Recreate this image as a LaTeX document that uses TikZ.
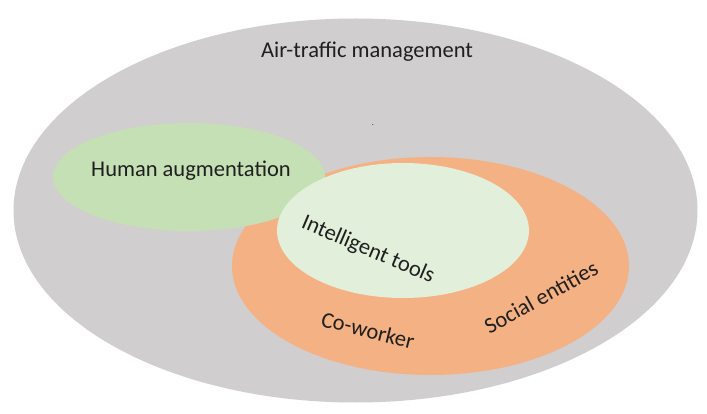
\documentclass[tikz,border=0pt]{standalone}
\usepackage{fontspec}
\setmainfont{Carlito}
\definecolor{atmgray}{HTML}{D0CECE}
\definecolor{augmgreen}{HTML}{C5E0B4}
\definecolor{socorange}{HTML}{F4B183}
\definecolor{toolgreen}{HTML}{E2EFDA}
\tikzstyle{every node}=[text=black!88, inner sep=0pt, font=\fontsize{22.5}{26}\selectfont]

\begin{document}
\begin{tikzpicture}[x=1pt, y=-1pt]
    \useasboundingbox[fill=white] (0,0) rectangle (707,414);
% Areas
    \fill[atmgray] (355.5,210.5) ellipse [x radius=342pt, y radius=192pt];
    \fill[socorange] (430.5,266) ellipse [x radius=198.5pt, y radius=109pt];
    \fill[augmgreen] (189,177) ellipse [x radius=136pt, y radius=54pt];
    \fill[toolgreen] (403,230.5) ellipse [x radius=126pt, y radius=67.5pt];
% Labels
    \node (atm) at (367,52) {Air-traffic management};
    \node (dot) at (373,125) {\fontsize{8}{8}\selectfont .};
    \node (augm) at (191,171) {Human augmentation};
    \node[rotate=-23] (tools) at (368,250) {Intelligent tools};
    \node[rotate=29] (social) at (541,297) {Social entities};
    \node[rotate=-14] (cowork) at (368,330) {Co-worker};
\end{tikzpicture}
\end{document}
